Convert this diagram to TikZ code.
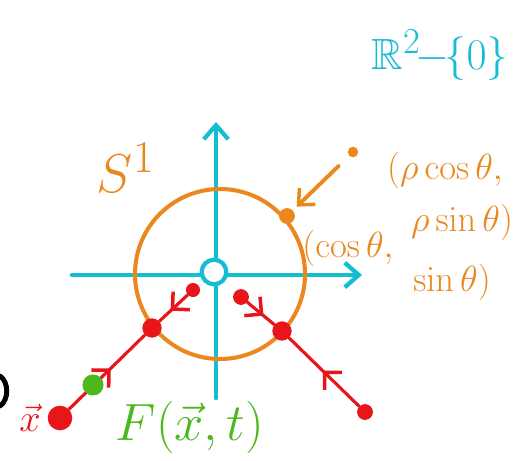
\documentclass[tikz,border=0pt]{standalone}
\usepackage{amssymb}
\usetikzlibrary{arrows.meta,decorations.markings}
\definecolor{cy}{RGB}{20,188,212}
\definecolor{orn}{RGB}{234,136,30}
\definecolor{rd}{RGB}{232,22,26}
\definecolor{gr}{RGB}{76,184,28}
\tikzset{
  axis/.style={draw=cy,line width=2.6pt,line cap=round,-{Straight Barb[length=8pt,width=14pt,line width=2.4pt]}},
  flow/.style={draw=rd,line width=1.8pt,line cap=round,postaction={decorate},
    decoration={markings,mark=at position #1 with {\arrow{Straight Barb[length=7pt,width=14pt,line width=2pt]}}}},
  dot/.style={circle,inner sep=0pt,minimum size=#1},
  rdot/.style={dot=#1,fill=rd},
  lab/.style={inner sep=0pt},
}
\begin{document}
\begin{tikzpicture}[x=0.02cm,y=-0.02cm]
\useasboundingbox (0,0) rectangle (514,460);
% axes
\coordinate (xl) at (72,275);
\coordinate (xr) at (362,275);
\coordinate (yb) at (216,398);
\coordinate (yt) at (216,122);
\draw[axis] (xl) -- (xr);
\draw[axis] (yb) -- (yt);
% circle S^1
\coordinate (c) at (220,274);
\draw[orn,line width=2.3pt] (c) circle[radius=85];
% origin hole
\node[dot=14pt,draw=cy,line width=2.4pt,fill=white] (o) at (214,272) {};
% orange points
\node[dot=9pt,fill=orn] (p) at (287,216) {};
\node[dot=6pt,fill=orn] (q) at (353,152) {};
\draw[orn,line width=2.2pt,line cap=round,-{Straight Barb[length=7pt,width=13pt,line width=2pt]},shorten <=8pt,shorten >=3pt] (q) -- (p);
% red flow lines
\node[rdot=14pt] (a0) at (60,418) {};
\node[rdot=11pt] (a1) at (152,328) {};
\node[rdot=8pt] (a2) at (193,290) {};
\node[rdot=9pt] (b0) at (241,297) {};
\node[rdot=11pt] (b1) at (282,331) {};
\node[rdot=9pt] (b2) at (365,412) {};
\draw[flow=0.55] (a0) -- (a1);
\draw[flow=0.6] (a2) -- (a1);
\draw[flow=0.6] (b0) -- (b1);
\draw[flow=0.52] (b2) -- (b1);
\node[dot=12pt,fill=gr] (g) at (93,385) {};
% labels
\node[lab,text=cy,font=\Huge,anchor=east] (R) at (509,55) {$\mathbb{R}^2\!\!-\!\!\{0\}$};
\node[lab,text=orn,font=\Huge,scale=1.25] (S) at (126,168) {$S^1$};
\node[lab,text=orn,font=\huge] (t1) at (445,170) {$(\rho\cos\theta,$};
\node[lab,text=orn,font=\huge] (t2) at (462,222) {$\rho\sin\theta)$};
\node[lab,text=orn,font=\huge] (t3) at (348,248) {$(\cos\theta,$};
\node[lab,text=orn,font=\huge] (t4) at (452,282) {$\sin\theta)$};
\node[lab,text=rd,font=\huge,scale=1.05] (xv) at (30,418) {$\vec{x}$};
\node[lab,text=gr,font=\Huge,scale=1.2] (F) at (190,427) {$F(\vec{x},t)$};
% cut-off black stroke at the left edge
\draw[black,line width=2.8pt,line cap=round] (0,376) .. controls (9,382) and (9,400) .. (0,406);
\end{tikzpicture}
\end{document}
